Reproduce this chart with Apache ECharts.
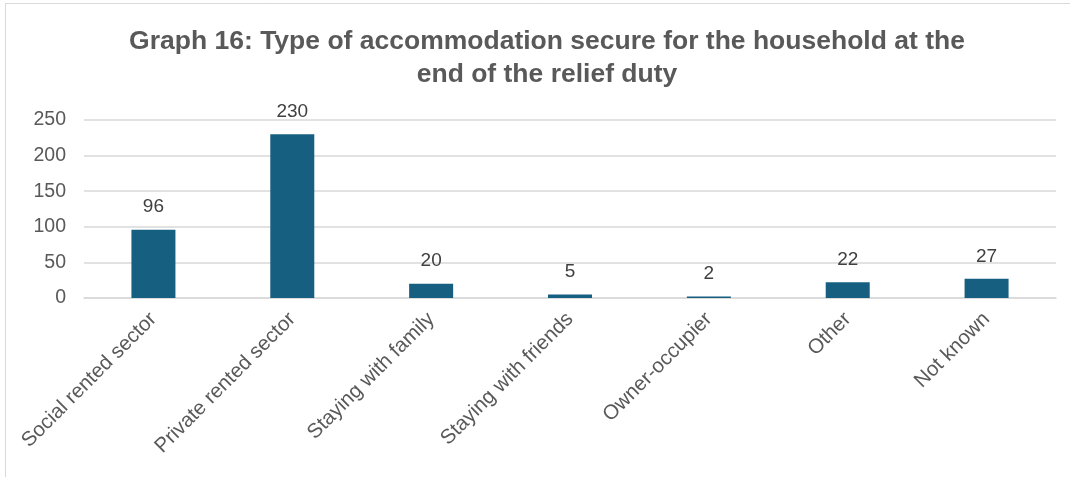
<!DOCTYPE html>
<html>
<head>
<meta charset="utf-8">
<script src="https://cdn.jsdelivr.net/npm/echarts@6/dist/echarts.min.js"></script>
<style>
  html, body { margin: 0; padding: 0; background: #fff; }
  #chart { width: 1070px; height: 477px; }
</style>
</head>
<body>
<div id="chart"></div>
<script>
// Accommodation secured at the end of the relief duty
const categories = [
  'Social rented sector',
  'Private rented sector',
  'Staying with family',
  'Staying with friends',
  'Owner-occupier',
  'Other',
  'Not known'
];
const households = [96, 230, 20, 5, 2, 22, 27];
const yTicks = [0, 50, 100, 150, 200, 250];

const chart = echarts.init(document.getElementById('chart'), null, { renderer: 'canvas' });

chart.setOption({
  animation: false,
  backgroundColor: '#ffffff',
  title: {
    text: 'Graph 16: Type of accommodation secure for the household at the\nend of the relief duty',
    left: 542,
    textAlign: 'center',
    top: 20,
    textStyle: {
      fontFamily: 'Liberation Sans, Arial, sans-serif',
      fontWeight: 'bold',
      fontSize: 26.5,
      lineHeight: 33,
      color: '#595959'
    }
  },
  graphic: [
    { type: 'line', shape: { x1: 5, y1: 3.5, x2: 1070, y2: 3.5 }, style: { stroke: '#d9d9d9', lineWidth: 1 } },
    { type: 'line', shape: { x1: 5.5, y1: 3, x2: 5.5, y2: 477 }, style: { stroke: '#d9d9d9', lineWidth: 1 } }
  ],
  grid: {
    left: 84,
    right: 1070 - 1056,
    top: 120,
    bottom: 477 - 298,
    containLabel: false
  },
  xAxis: {
    type: 'category',
    data: categories,
    axisLine: { show: true, lineStyle: { color: '#d9d9d9', width: 1.5 } },
    axisTick: { show: false },
    axisLabel: {
      interval: 0,
      rotate: 45,
      margin: 18,
      fontFamily: 'Liberation Sans, Arial, sans-serif',
      fontSize: 20.5,
      color: '#595959'
    }
  },
  yAxis: {
    type: 'value',
    min: yTicks[0],
    max: yTicks[yTicks.length - 1],
    interval: 50,
    axisLine: { show: false },
    axisTick: { show: false },
    splitLine: { lineStyle: { color: '#d9d9d9', width: 1.5 } },
    axisLabel: {
      margin: 18,
      fontFamily: 'Liberation Sans, Arial, sans-serif',
      fontSize: 19.5,
      color: '#595959'
    }
  },
  series: [{
    type: 'bar',
    data: households,
    barWidth: 44,
    itemStyle: { color: '#175f80' },
    label: {
      show: true,
      position: 'top',
      distance: 13,
      fontFamily: 'Liberation Sans, Arial, sans-serif',
      fontSize: 19,
      color: '#404040'
    }
  }]
});
</script>
</body>
</html>
